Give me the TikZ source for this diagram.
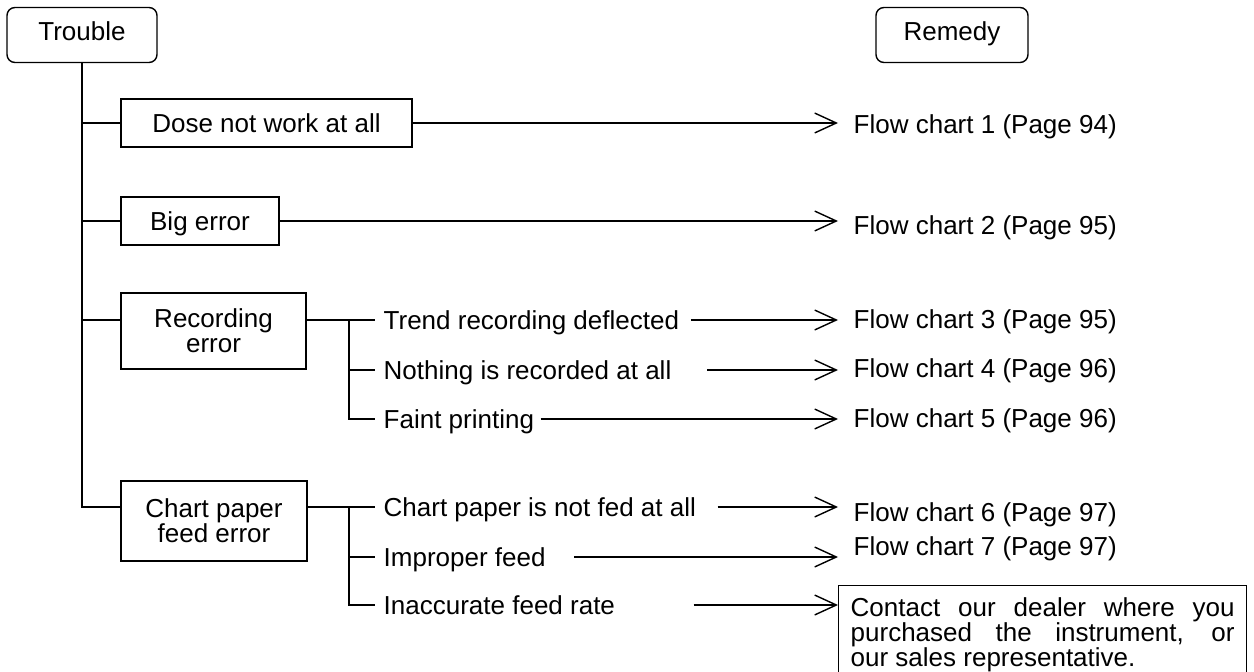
\documentclass[tikz,border=0pt]{standalone}
\usepackage{fontspec}
\setmainfont{Liberation Sans}
\usetikzlibrary{arrows.meta}

\begin{document}
\begin{tikzpicture}[x=0.02cm,y=-0.02cm,line width=0.8pt,>={Straight Barb[length=12.3pt,width=11.3pt]},
  font=\fontsize{14.8}{14.3}\selectfont,
  one/.style={text height=2.2ex,text depth=.25ex},
  head/.style={draw,text height=1.5ex,text depth=.25ex,rounded corners=4.5pt,minimum height=1.1cm},
  kind/.style={draw,align=center},
  item/.style={one,anchor=west,inner sep=0pt}]
  \useasboundingbox (0,0) rectangle (1254,672);
  % cabeceras
  \node[head,minimum width=3cm] (trouble) at (82,35) {Trouble};
  \node[head,minimum width=3.04cm] (remedy) at (952,35) {Remedy};
  % fallas
  \node[kind,one,minimum width=5.82cm,minimum height=0.96cm] (dose) at (266.5,123) {Dose not work at all};
  \node[kind,one,minimum width=3.16cm,minimum height=0.96cm] (big) at (200,221) {Big error};
  \node[kind,minimum width=3.7cm,minimum height=1.52cm] (rec) at (213.5,331) {Recording\\error};
  \node[kind,minimum width=3.72cm,minimum height=1.6cm] (chart) at (214,521) {Chart paper\\feed error};
  \coordinate (rj) at (349,320);
  \coordinate (cj) at (349,507);
  \coordinate (tip) at (838,0);
  % tronco
  \draw (trouble.south) -- (trouble.south |- cj) -- (chart.west |- cj);
  \foreach \b in {dose,big} \draw (trouble.south |- \b.west) -- (\b.west);
  \draw (trouble.south |- rj) -- (rec.west |- rj);
  % subcausas
  \foreach \nm/\y/\t in {trend/320/Trend recording deflected,nothing/370/Nothing is recorded at all,
      faint/419/Faint printing,notfed/507/Chart paper is not fed at all,improper/557/Improper feed,
      inacc/605/Inaccurate feed rate}
    \node[item] (\nm) at (383,\y) {\t};
  \draw[shorten >=0.16cm] (rec.east |- rj) -- (trend.west);
  \draw[shorten >=0.16cm] (rj) -- (rj |- faint.west) -- (faint.west);
  \draw[shorten >=0.16cm] (rj |- nothing.west) -- (nothing.west);
  \draw[shorten >=0.16cm] (chart.east |- cj) -- (notfed.west);
  \draw[shorten >=0.16cm] (cj) -- (cj |- inacc.west) -- (inacc.west);
  \draw[shorten >=0.16cm] (cj |- improper.west) -- (improper.west);
  % remedios
  \foreach \n/\y/\p in {1/124/94,2/225/95,3/319/95,4/368/96,5/418/96,6/512/97,7/546/97}
    \node[item] (fc\n) at (853,\y) {Flow chart \n\ (Page \p)};
  \node[draw,anchor=north west,text width=7.68cm,align=justify,inner xsep=0.24cm,inner ysep=0.24cm] (contact)
    at (838,585) {Contact our dealer where you\linebreak purchased the instrument, or\linebreak our sales representative.};
  % flechas
  \draw[->] (dose.east) -- (tip |- dose.east);
  \draw[->] (big.east) -- (tip |- big.east);
  \foreach \nm/\g in {trend/0.22,nothing/0.7,faint/0.12,notfed/0.42,improper/0.56}
    \draw[->] ([xshift=\g cm]\nm.east) -- (tip |- \nm.east);
  \draw[->] ([xshift=1.56cm]inacc.east) -- (contact.west |- inacc.east);
\end{tikzpicture}
\end{document}
